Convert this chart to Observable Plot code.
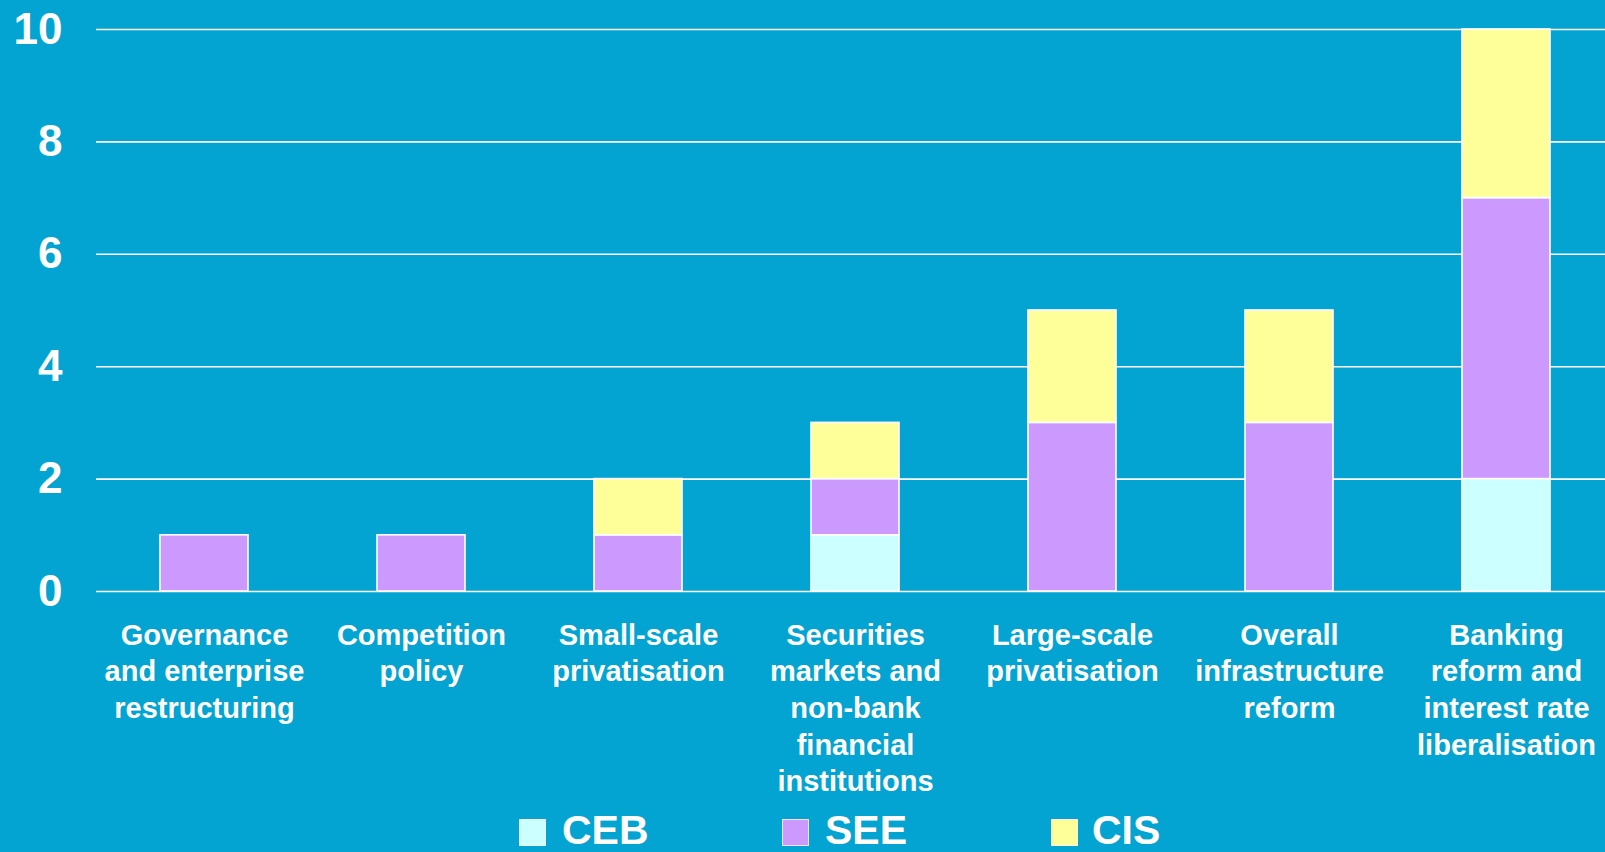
<!DOCTYPE html>
<html>
<head>
<meta charset="utf-8">
<script src="https://cdn.jsdelivr.net/npm/d3@7"></script>
<script src="https://cdn.jsdelivr.net/npm/@observablehq/plot@0.6"></script>
<style>
  html, body { margin: 0; padding: 0; background: #03A4D2; overflow: hidden; }
  #chart svg { display: block; }
  #legend { position: relative; height: 46px; width: 1605px; font-family: "Liberation Sans", Arial, sans-serif; }
  .item { position: absolute; top: 0; height: 46px; }
  .sw { position: absolute; top: 13px; left: 0; width: 27px; height: 27px; border: 1px solid rgba(255,255,255,0.7); box-sizing: border-box; }
  .lbl { position: absolute; top: 4px; white-space: nowrap; color: #fff; font-weight: bold; font-size: 41px; line-height: 41px; }
</style>
</head>
<body>
<div id="chart"></div>
<div id="legend"></div>
<script>
// ---- data ----
const categories = ["Governance", "Competition", "Small-scale", "Securities", "Large-scale", "Infrastructure", "Banking"];
const tickLabels = [
  "Governance\nand enterprise\nrestructuring",
  "Competition\npolicy",
  "Small-scale\nprivatisation",
  "Securities\nmarkets and\nnon-bank\nfinancial\ninstitutions",
  "Large-scale\nprivatisation",
  "Overall\ninfrastructure\nreform",
  "Banking\nreform and\ninterest rate\nliberalisation"
];
const seriesNames = ["CEB", "SEE", "CIS"];
const CEB = [0, 0, 0, 1, 0, 0, 2];
const SEE = [1, 1, 1, 1, 3, 3, 5];
const CIS = [0, 0, 1, 1, 2, 2, 3];
const yTicks = [0, 2, 4, 6, 8, 10];
const seriesColors = ["#CCFFFF", "#CC99FF", "#FFFF99"];

// ---- build table ----
const seriesValues = [CEB, SEE, CIS];
const rows = [];
seriesNames.forEach((s, si) => {
  categories.forEach((c, ci) => {
    rows.push({category: c, series: s, value: seriesValues[si][ci]});
  });
});
const labelOf = new Map(categories.map((c, i) => [c, tickLabels[i]]));

const font = "'Liberation Sans', Arial, Helvetica, sans-serif";

const plot = Plot.plot({
  width: 1605,
  height: 806,
  marginLeft: 96,
  marginRight: 0,
  marginTop: 29,
  marginBottom: 215,
  style: {background: "transparent", color: "white", fontFamily: font, overflow: "visible"},
  x: {type: "band", domain: categories, range: [94, 1615], paddingInner: 0.595, paddingOuter: 0.2975, label: null},
  y: {domain: [0, 10], label: null},
  color: {domain: seriesNames, range: seriesColors},
  marks: [
    Plot.ruleY(yTicks, {stroke: "white", strokeWidth: 1.6}),
    Plot.barY(rows, Plot.stackY({
      x: "category",
      y: "value",
      fill: "series",
      order: seriesNames,
      filter: d => d.value > 0,
      stroke: "white",
      strokeWidth: 1.6
    })),
    Plot.axisY({ticks: yTicks, tickSize: 0, tickPadding: 34, fontSize: 44, fontWeight: "bold", fill: "white", label: null}),
    Plot.axisX({tickSize: 0, tickPadding: 27, fontSize: 29, fontWeight: "bold", fill: "white", lineHeight: 1.265, tickFormat: d => labelOf.get(d), label: null})
  ]
});
document.getElementById("chart").appendChild(plot);

// ---- legend ----
const legendLeft = [519, 782, 1051];
const legend = document.getElementById("legend");
seriesNames.forEach((s, i) => {
  const item = document.createElement("div");
  item.className = "item";
  item.style.left = legendLeft[i] + "px";
  const sw = document.createElement("div");
  sw.className = "sw";
  sw.style.background = seriesColors[i];
  const lb = document.createElement("div");
  lb.className = "lbl";
  lb.style.left = (i === 2 ? 41 : 43) + "px";
  lb.textContent = s;
  item.appendChild(sw);
  item.appendChild(lb);
  legend.appendChild(item);
});
</script>
</body>
</html>
